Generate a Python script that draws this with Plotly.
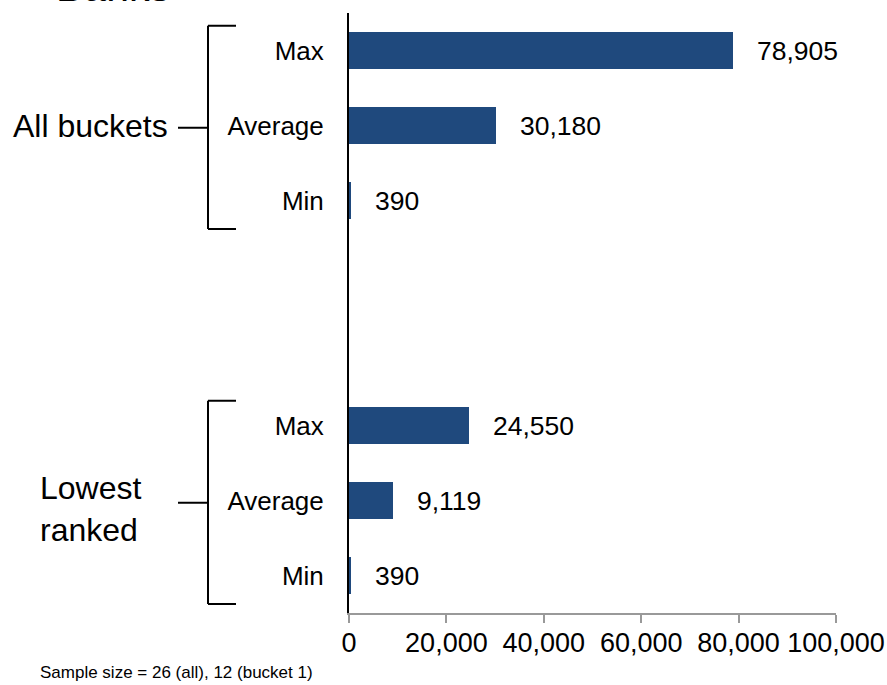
import plotly.graph_objects as go

# ---- data ----
title_text = "Banks"
stat_labels = ["Max", "Average", "Min"]
group_labels = ["All buckets", "Lowest<br>ranked"]
all_buckets_values = [78905, 30180, 390]
lowest_ranked_values = [24550, 9119, 390]
x_tick_values = [0, 20000, 40000, 60000, 80000, 100000]
note_text = "Sample size = 26 (all), 12 (bucket 1)"

# ---- layout helpers ----
W, H = 887, 685
L, R, T, B = 349, 51, 12.5, 72
PW = W - L - R
PH = H - T - B
FONT = "Liberation Sans, Arial, sans-serif"
BAR_COLOR = "#1F497D"

group_offsets = [0, 5]
group_values = [all_buckets_values, lowest_ranked_values]

ys, xs, labels = [], [], []
for off, vals in zip(group_offsets, group_values):
    for i, (lab, v) in enumerate(zip(stat_labels, vals)):
        ys.append(off + i)
        xs.append(v)
        labels.append(lab)

def px_x(p):
    return (p - L) / PW

fig = go.Figure()
fig.add_trace(go.Bar(
    x=xs, y=ys, orientation="h", width=0.5,
    marker=dict(color=BAR_COLOR, line=dict(width=0)),
    hoverinfo="skip", showlegend=False,
))

annotations = []
for x, y in zip(xs, ys):
    annotations.append(dict(
        x=x, y=y, xref="x", yref="y", text=f"{x:,}", showarrow=False,
        xanchor="left", yanchor="middle", xshift=22,
        font=dict(family=FONT, size=26.5, color="black"),
    ))

# group labels
annotations.append(dict(
    x=px_x(170), y=group_offsets[0] + 1, xref="paper", yref="y",
    text=group_labels[0], showarrow=False, xanchor="right", yanchor="middle",
    font=dict(family=FONT, size=32, color="black"),
))
annotations.append(dict(
    x=px_x(38), y=group_offsets[1] + 1, xref="paper", yref="y",
    text=group_labels[1], showarrow=False, xanchor="left", yanchor="middle",
    align="left", yshift=-8,
    font=dict(family=FONT, size=32, color="black"),
))
# title (cut off at top, as in the reference)
annotations.append(dict(
    x=px_x(54), y=1 + 1.5 / PH, xref="paper", yref="paper",
    text=title_text, showarrow=False, xanchor="left", yanchor="bottom",
    font=dict(family=FONT, size=41, color="black"),
))
# note
annotations.append(dict(
    x=px_x(38), y=-(673 - (H - B)) / PH, xref="paper", yref="paper",
    text=note_text, showarrow=False, xanchor="left", yanchor="middle",
    font=dict(family=FONT, size=17, color="black"),
))

# brackets
shapes = []
line = dict(color="black", width=2)
for off in group_offsets:
    top = off - 0.33
    bot = off + 2.38
    mid = off + 1.03
    shapes += [
        dict(type="line", xref="paper", yref="y", x0=px_x(208), x1=px_x(208), y0=top, y1=bot, line=line),
        dict(type="line", xref="paper", yref="y", x0=px_x(208), x1=px_x(236), y0=top, y1=top, line=line),
        dict(type="line", xref="paper", yref="y", x0=px_x(208), x1=px_x(236), y0=bot, y1=bot, line=line),
        dict(type="line", xref="paper", yref="y", x0=px_x(178), x1=px_x(208), y0=mid, y1=mid, line=line),
    ]

fig.update_layout(
    width=W, height=H,
    margin=dict(l=L, r=R, t=T, b=B, pad=0, autoexpand=False),
    paper_bgcolor="white", plot_bgcolor="white",
    annotations=annotations, shapes=shapes,
    bargap=0,
    xaxis=dict(
        range=[0, 100000], tickvals=x_tick_values,
        ticktext=[f"{v:,}" for v in x_tick_values],
        showgrid=False, zeroline=False, automargin=False,
        showline=True, linecolor="#999999", linewidth=1.5,
        ticks="outside", ticklen=8, tickcolor="#999999", tickwidth=1.5,
        ticklabelstandoff=-3,
        tickfont=dict(family=FONT, size=27, color="black"),
        fixedrange=True,
    ),
    yaxis=dict(
        range=[7.5, -0.5],
        tickvals=ys, ticktext=labels,
        showgrid=False, zeroline=False, automargin=False,
        showline=True, linecolor="black", linewidth=2,
        ticks="", ticklabelstandoff=18,
        tickfont=dict(family=FONT, size=26, color="black"),
        fixedrange=True,
    ),
)

fig.write_html("out.html", config={"displayModeBar": False})
